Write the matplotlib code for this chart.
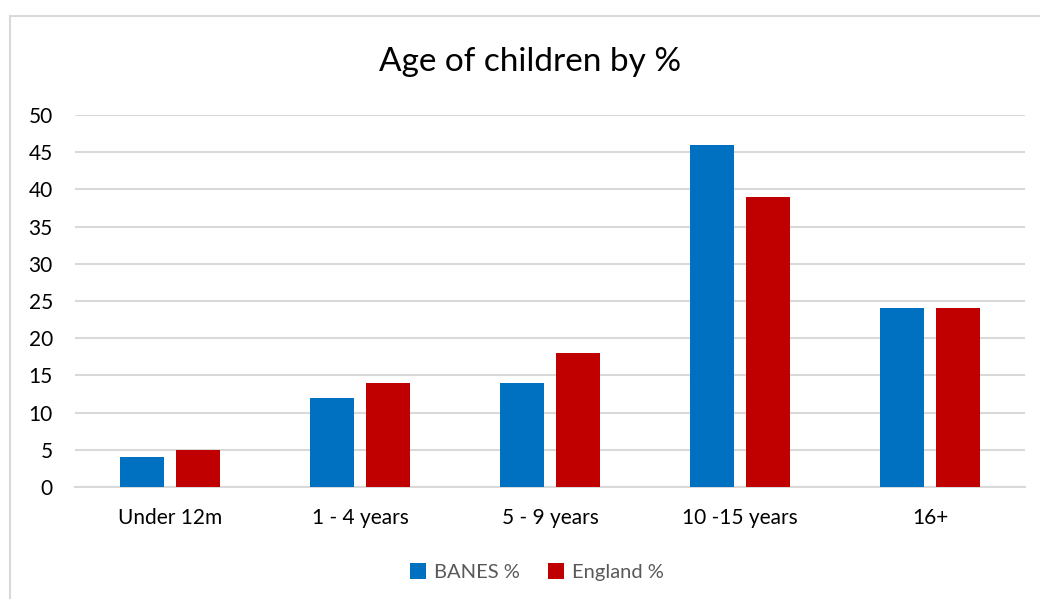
import numpy as np
import matplotlib
matplotlib.use("Agg")
import matplotlib.pyplot as plt
from matplotlib.patches import Rectangle

# age bands and share of children (%) in each
categories = ["Under 12m", "1 - 4 years", "5 - 9 years", "10 -15 years", "16+"]
banes_pct = [4, 12, 14, 46, 24]
england_pct = [5, 14, 18, 39, 24]

blue = "#0070C0"
red = "#C00000"
grid_col = "#D9D9D9"

plt.rcParams["font.family"] = ["Lato", "DejaVu Sans"]

fig = plt.figure(figsize=(10.4, 5.99), dpi=100)
ax = fig.add_axes([75/1040, 1 - 487/599, 950/1040, 372/599])

# chart-area border, only top and left fall inside the image
fig.patches.append(Rectangle((10/1040, -0.1), 1.2, 1.1 - 16/599,
                             transform=fig.transFigure, fill=False,
                             edgecolor=grid_col, linewidth=1.5))

x = np.arange(len(categories))
w = 0.232
ax.bar(x - 0.145, banes_pct, w, color=blue, label="BANES %", zorder=3)
ax.bar(x + 0.145, england_pct, w, color=red, label="England %", zorder=3)

ax.set_xlim(-0.5, len(categories) - 0.5)
ax.set_ylim(0, 50)
ax.set_yticks(range(0, 51, 5))
ax.set_xticks(x)
ax.set_xticklabels(categories)
ax.yaxis.grid(True, color=grid_col, linewidth=1.5, zorder=0)
ax.set_axisbelow(True)
for s in ["top", "right", "left"]:
    ax.spines[s].set_visible(False)
ax.spines["bottom"].set_color(grid_col)
ax.spines["bottom"].set_linewidth(1.5)
ax.tick_params(axis="both", length=0, labelsize=15, colors="#000000")
ax.tick_params(axis="y", pad=16)
ax.tick_params(axis="x", pad=15)

fig.text(530/1040, 1 - 62/599, "Age of children by %", ha="center", va="center",
         fontsize=24, color="#000000")

leg = ax.legend(loc="center", bbox_to_anchor=(537/1040, 1 - 572/599),
                bbox_transform=fig.transFigure, ncol=2, frameon=False,
                fontsize=14.5, handlelength=0.8, handleheight=0.8,
                handletextpad=0.4, columnspacing=1.4)
for t in leg.get_texts():
    t.set_color("#595959")

fig.savefig("out.png", dpi=100)
